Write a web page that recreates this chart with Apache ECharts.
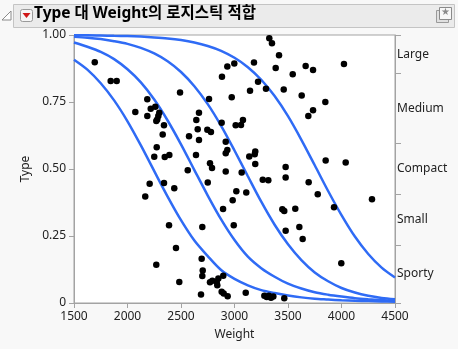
<!DOCTYPE html>
<html>
<head>
<meta charset="utf-8">
<script src="https://cdn.jsdelivr.net/npm/echarts@6/dist/echarts.min.js"></script>
<style>
  html, body { margin: 0; padding: 0; background: #f8f8f8; }
  #chart { width: 458px; height: 349px; }
</style>
</head>
<body>
<div id="chart"></div>
<script>
// 관측점: Weight 와 그림 안에서의 세로 위치
const weight = [1694, 1843, 1899, 2491, 2185, 2217, 2260, 2073, 2185, 2297, 2288, 2278, 2269, 2341, 2329, 2273, 2250, 2348, 2391,
  2762, 2668, 2643, 2656, 2575, 2668, 2746, 2780, 2883, 2933, 2880, 2918, 2933, 2918, 2640, 2771, 2790, 2918, 2563, 2750,
  2207, 2341, 2437, 2166, 2893, 2388, 2699, 2453, 2693, 2269, 2703, 2699, 2895, 2484, 2771, 2793, 2834, 2849, 2839, 2880,
  2899, 2687, 2936, 3325, 3350, 3416, 3385, 3182, 2998, 3220, 3145, 3294, 3460, 3544, 3665, 3734, 4023, 3628, 3849, 3734,
  3690, 2974, 3011, 3061, 3079, 3194, 3189, 3138, 3194, 3852, 4039, 3067, 3478, 3478, 3264, 3316, 3693, 3017, 3110, 2983,
  3778, 3447, 3465, 3568, 3930, 4285, 2993, 3478, 3606, 3637, 3998, 3105, 3279, 3301, 3322, 3341, 3363, 3465]
const typeY = [0.898, 0.828, 0.828, 0.785, 0.760, 0.725, 0.732, 0.713, 0.698, 0.710, 0.698, 0.685, 0.679, 0.663, 0.629, 0.581, 0.546, 0.545, 0.552,
  0.761, 0.710, 0.683, 0.648, 0.622, 0.608, 0.646, 0.638, 0.844, 0.882, 0.673, 0.602, 0.571, 0.559, 0.552, 0.521, 0.504, 0.491, 0.495, 0.450,
  0.445, 0.448, 0.428, 0.397, 0.351, 0.290, 0.284, 0.205, 0.165, 0.143, 0.121, 0.101, 0.102, 0.078, 0.077, 0.083, 0.078, 0.091, 0.066, 0.042,
  0.035, 0.032, 0.025, 0.988, 0.969, 0.924, 0.877, 0.897, 0.894, 0.826, 0.792, 0.799, 0.797, 0.854, 0.884, 0.869, 0.892, 0.774, 0.750, 0.719,
  0.698, 0.768, 0.663, 0.664, 0.683, 0.565, 0.555, 0.547, 0.519, 0.532, 0.524, 0.487, 0.507, 0.468, 0.460, 0.458, 0.451, 0.417, 0.412, 0.383,
  0.406, 0.350, 0.343, 0.352, 0.357, 0.387, 0.290, 0.270, 0.284, 0.239, 0.148, 0.038, 0.027, 0.022, 0.027, 0.020, 0.024, 0.018]

// 적합 곡선 (누적 확률), 125 간격으로 그림에서 읽은 값
const curveWeight = [1500, 1625, 1750, 1875, 2000, 2125, 2250, 2375, 2500, 2625, 2750, 2875, 3000,
  3125, 3250, 3375, 3500, 3625, 3750, 3875, 4000, 4125, 4250, 4375, 4500]
const curve1 = [0.908, 0.871, 0.820, 0.756, 0.678, 0.588, 0.492, 0.397, 0.309, 0.233, 0.175, 0.123, 0.090,
  0.066, 0.048, 0.037, 0.028, 0.021, 0.016, 0.013, 0.010, 0.008, 0.007, 0.006, 0.005]
const curve2 = [0.972, 0.956, 0.937, 0.910, 0.872, 0.823, 0.759, 0.681, 0.592, 0.496, 0.401, 0.312, 0.235,
  0.173, 0.130, 0.098, 0.072, 0.054, 0.040, 0.031, 0.024, 0.018, 0.014, 0.011, 0.008]
const curve3 = [0.993, 0.990, 0.985, 0.977, 0.967, 0.952, 0.931, 0.902, 0.862, 0.809, 0.742, 0.661, 0.569,
  0.473, 0.378, 0.292, 0.219, 0.160, 0.114, 0.081, 0.056, 0.039, 0.027, 0.019, 0.014]
const curve4 = [0.999, 0.999, 0.998, 0.997, 0.996, 0.994, 0.991, 0.987, 0.981, 0.972, 0.959, 0.941, 0.915,
  0.880, 0.833, 0.772, 0.697, 0.609, 0.514, 0.418, 0.328, 0.248, 0.183, 0.132, 0.095]

// 오른쪽 축: 범주와 경계
const levels = ['Sporty', 'Small', 'Compact', 'Medium', 'Large']
const levelBounds = [0, 0.216, 0.406, 0.596, 0.857, 1]

const title = 'Type 대 Weight의 로지스틱 적합'
const font = '"Noto Sans", "Noto Sans CJK KR", sans-serif'
const blue = '#2f6bf5'
const axisGray = '#a3a3a3'

const levelMids = levels.map((_, i) => (levelBounds[i] + levelBounds[i + 1]) / 2)

function curveSeries(vals) {
  return {
    type: 'line',
    data: curveWeight.map((w, i) => [w, vals[i]]),
    smooth: 0.3,
    showSymbol: false,
    lineStyle: { color: blue, width: 2.5 },
    z: 2,
    silent: true
  }
}

const chart = echarts.init(document.getElementById('chart'))
chart.setOption({
  backgroundColor: '#f8f8f8',
  animation: false,
  textStyle: { fontFamily: font },
  grid: {
    left: 74, top: 35, width: 321, height: 268,
    show: true, backgroundColor: '#fff', borderColor: axisGray, borderWidth: 1
  },
  xAxis: {
    type: 'value', min: 1500, max: 4500, interval: 500,
    name: 'Weight', nameLocation: 'middle', nameGap: 26,
    nameTextStyle: { fontSize: 12, color: '#222', fontFamily: font },
    axisLine: { lineStyle: { color: axisGray } },
    axisTick: { length: 5, lineStyle: { color: axisGray } },
    axisLabel: { fontSize: 12, color: '#222', margin: 8, fontFamily: font, formatter: v => String(v) },
    splitLine: { show: false }
  },
  yAxis: [
    {
      type: 'value', min: 0, max: 1, interval: 0.25,
      name: 'Type', nameLocation: 'middle', nameGap: 38,
      nameTextStyle: { fontSize: 12, color: '#222', fontFamily: font },
      axisLine: { show: true, lineStyle: { color: axisGray } },
      axisTick: { show: true, length: 5, lineStyle: { color: axisGray } },
      axisLabel: {
        fontSize: 12, color: '#222', margin: 8, fontFamily: font,
        formatter: v => (v === 0 ? '0' : v.toFixed(2))
      },
      splitLine: { show: false }
    },
    {
      type: 'value', min: 0, max: 1, position: 'right',
      axisLine: { show: true, lineStyle: { color: axisGray } },
      axisTick: { show: true, length: 6, customValues: levelBounds, lineStyle: { color: axisGray } },
      axisLabel: {
        fontSize: 12, color: '#222', margin: 2, fontFamily: font,
        customValues: levelMids,
        formatter: v => {
          let best = 0
          levelMids.forEach((m, i) => { if (Math.abs(m - v) < Math.abs(levelMids[best] - v)) best = i })
          return levels[best]
        }
      },
      splitLine: { show: false }
    }
  ],
  series: [
    curveSeries(curve1),
    curveSeries(curve2),
    curveSeries(curve3),
    curveSeries(curve4),
    {
      type: 'scatter',
      data: weight.map((w, i) => [w, typeY[i]]),
      symbolSize: 6.5,
      itemStyle: { color: '#000', opacity: 1 },
      z: 3
    }
  ],
  graphic: [
    // 접기 삼각형
    { type: 'polygon', shape: { points: [[11, 11], [11, 20], [2, 20]] }, style: { fill: '#fff', stroke: '#8a8a8a', lineWidth: 1 } },
    // 제목 막대
    { type: 'rect', shape: { x: 13.5, y: 4.5, width: 441, height: 23 }, style: { fill: '#ebebeb', stroke: '#c4c4c4', lineWidth: 1 } },
    { type: 'rect', shape: { x: 20.5, y: 9.5, width: 12, height: 12, r: 2 }, style: { fill: '#f6f6f6', stroke: '#9a9a9a', lineWidth: 1 } },
    { type: 'polygon', shape: { points: [[22.5, 13], [30.5, 13], [26.5, 18]] }, style: { fill: '#d01818' } },
    {
      type: 'text', left: 34, top: 6,
      style: { text: title, font: 'bold 15.5px ' + font, fill: '#000' }
    },
    // 오른쪽 아이콘
    { type: 'rect', shape: { x: 436.5, y: 10.5, width: 12, height: 12 }, style: { fill: '#e0e0e0', stroke: '#9a9a9a', lineWidth: 1 } },
    { type: 'rect', shape: { x: 439.5, y: 7.5, width: 12, height: 12 }, style: { fill: '#f7f7f7', stroke: '#8a8a8a', lineWidth: 1 } },
    { type: 'text', left: 441, top: 7.5, style: { text: '★', font: '10px "DejaVu Sans"', fill: '#8a8a8a' } }
  ]
})
</script>
</body>
</html>
